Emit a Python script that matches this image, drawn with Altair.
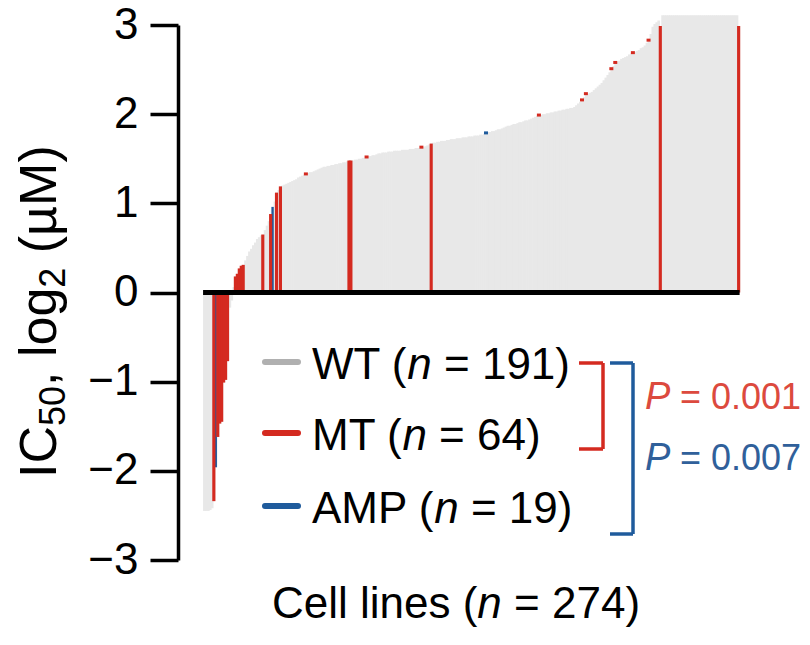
import altair as alt
import pandas as pd

# IC50 (log2 uM) per cell line, sorted waterfall order (274 cell lines)
ic50 = [
    -2.45, -2.45, -2.45, -2.44, -2.42, -2.34, -1.96, -1.62, -1.47, -1.45,
    -1.01, -0.98, -0.77, -0.17, -0.09, 0.06, 0.18, 0.21, 0.27, 0.30,
    0.31, 0.36, 0.41, 0.46, 0.49, 0.53, 0.56, 0.60, 0.62, 0.64,
    0.65, 0.70, 0.75, 0.80, 0.88, 0.96, 1.02, 1.12, 1.15, 1.19,
    1.20, 1.21, 1.22, 1.23, 1.24, 1.25, 1.26, 1.27, 1.29, 1.30,
    1.31, 1.32, 1.33, 1.34, 1.35, 1.35, 1.36, 1.37, 1.38, 1.39,
    1.40, 1.41, 1.41, 1.42, 1.42, 1.43, 1.43, 1.44, 1.44, 1.45,
    1.45, 1.46, 1.46, 1.47, 1.48, 1.48, 1.48, 1.49, 1.49, 1.50,
    1.50, 1.51, 1.51, 1.52, 1.53, 1.53, 1.54, 1.54, 1.55, 1.56,
    1.56, 1.57, 1.57, 1.57, 1.58, 1.58, 1.58, 1.59, 1.59, 1.59,
    1.59, 1.60, 1.60, 1.60, 1.60, 1.61, 1.61, 1.61, 1.62, 1.62,
    1.62, 1.63, 1.63, 1.64, 1.65, 1.66, 1.67, 1.68, 1.68, 1.69,
    1.69, 1.70, 1.70, 1.70, 1.71, 1.71, 1.72, 1.72, 1.72, 1.73,
    1.73, 1.73, 1.74, 1.74, 1.74, 1.75, 1.75, 1.75, 1.76, 1.76,
    1.76, 1.77, 1.77, 1.78, 1.79, 1.80, 1.80, 1.81, 1.81, 1.82,
    1.83, 1.83, 1.84, 1.85, 1.86, 1.87, 1.87, 1.88, 1.89, 1.89,
    1.90, 1.91, 1.91, 1.92, 1.93, 1.93, 1.94, 1.95, 1.96, 1.97,
    1.98, 1.99, 1.99, 2.00, 2.00, 2.01, 2.01, 2.02, 2.02, 2.03,
    2.03, 2.04, 2.04, 2.05, 2.05, 2.06, 2.06, 2.07, 2.07, 2.08,
    2.10, 2.12, 2.14, 2.16, 2.19, 2.23, 2.23, 2.24, 2.25, 2.27,
    2.29, 2.31, 2.33, 2.35, 2.38, 2.41, 2.44, 2.47, 2.51, 2.54,
    2.58, 2.59, 2.60, 2.62, 2.63, 2.64, 2.65, 2.67, 2.68, 2.69,
    2.70, 2.71, 2.72, 2.74, 2.75, 2.77, 2.80, 2.83, 2.90, 2.98,
    3.01, 3.03, 3.05, 2.99, 3.11, 3.11, 3.11, 3.11, 3.11, 3.11,
    3.11, 3.11, 3.11, 3.11, 3.11, 3.11, 3.11, 3.11, 3.11, 3.11,
    3.11, 3.11, 3.11, 3.11, 3.11, 3.11, 3.11, 3.11, 3.11, 3.11,
    3.11, 3.11, 3.11, 3.11, 3.11, 3.11, 3.11, 3.11, 3.11, 3.11,
    3.11, 3.11, 3.11, 2.99,
]

# cell lines whose mutant / amplified bar is visible in full
mt_bar_idx = [5, 7, 8, 9, 10, 11, 12, 16, 17, 18, 19, 20, 30, 34, 37, 39, 74, 75, 116, 233, 273]
amp_bar_idx = [6, 35]
# cell lines whose mutant / amplified bar shows only as an edge mark at the top
mt_edge_idx = [52, 83, 111, 171, 193, 195, 208, 210, 219, 227]
amp_edge_idx = [144]

legend_labels = [("WT (", "n", "= 191)"), ("MT (", "n", "= 64)"), ("AMP (", "n", "= 19)")]
p_labels = [("P", "= 0.001"), ("P", "= 0.007")]
x_title = ("Cell lines (", "n", "= 274)")
y_title = [("IC", False), ("50", True), (", log", False), ("2", True), ("(\u00b5M)", False)]

GRAY = "#e8e8e8"
LEG_GRAY = "#b0b0b0"
RED = "#d42a20"
BLUE = "#1f5b9c"
P_RED = "#dc4a3e"
P_BLUE = "#30609a"
FONT = "Liberation Sans"

n = len(ic50)
status, draw = [], []
for i in range(n):
    if i in mt_bar_idx:
        status.append("MT"); draw.append("bar")
    elif i in amp_bar_idx:
        status.append("AMP"); draw.append("bar")
    elif i in mt_edge_idx:
        status.append("MT"); draw.append("edge")
    elif i in amp_edge_idx:
        status.append("AMP"); draw.append("edge")
    else:
        status.append("WT"); draw.append("none")

df = pd.DataFrame({"idx": list(range(n)), "ic50": ic50, "status": status, "draw": draw})

xs = alt.Scale(domain=[-13.3, 273.7], nice=False, zero=False)
ys = alt.Scale(domain=[-3, 3], nice=False)
yaxis = alt.Axis(values=[-3, -2, -1, 0, 1, 2, 3], format="d", title=None, grid=False,
                 labelFontSize=44, labelFont=FONT, labelColor="black",
                 tickSize=28, tickWidth=3.5, tickColor="black",
                 domainWidth=3.5, domainColor="black", labelPadding=12)

base = alt.Chart(df).transform_calculate(x0="datum.idx - 0.5", x1="datum.idx + 0.85")

gray = base.mark_rect(color=GRAY).encode(
    x=alt.X("x0:Q", scale=xs, axis=None),
    x2="x1:Q",
    y=alt.Y("ic50:Q", scale=ys, axis=yaxis),
    y2=alt.datum(0),
)

cscale = alt.Scale(domain=["MT", "AMP"], range=[RED, BLUE])


def colored_bars(group, half):
    return alt.Chart(df).transform_filter(
        f"datum.draw == 'bar' && datum.status == '{group}'"
    ).transform_calculate(
        x0=f"datum.idx - {half}", x1=f"datum.idx + {half}"
    ).mark_rect().encode(
        x=alt.X("x0:Q", scale=xs, axis=None),
        x2="x1:Q",
        y=alt.Y("ic50:Q", scale=ys),
        y2=alt.datum(0),
        color=alt.Color("status:N", scale=cscale, legend=None),
    )


amp_bars = colored_bars("AMP", 0.6)
mt_bars = colored_bars("MT", 0.8)

edges = base.transform_filter("datum.draw == 'edge'").mark_tick(
    orient="horizontal", size=4, thickness=3, opacity=1
).encode(
    x=alt.X("idx:Q", scale=xs, axis=None),
    y=alt.Y("ic50:Q", scale=ys),
    color=alt.Color("status:N", scale=cscale, legend=None),
)

zero = alt.Chart(pd.DataFrame({"a": [-0.5], "b": [273.5], "z": [0]})).mark_rule(
    color="black", strokeWidth=5
).encode(
    x=alt.X("a:Q", scale=xs, axis=None), x2="b:Q", y=alt.Y("z:Q", scale=ys)
)

OX, OY = 178, 25  # plot origin in page pixels


def txt(s, x, y, size=44, color="black", style="normal", align="left", angle=0):
    return alt.Chart(pd.DataFrame({"t": [s]})).mark_text(
        font=FONT, fontSize=size, color=color, fontStyle=style, align=align,
        baseline="middle", angle=angle
    ).encode(text="t:N", x=alt.value(x - OX), y=alt.value(y - OY))


def seg(x1, y1, x2, y2, color, w):
    return alt.Chart(pd.DataFrame({"k": [0]})).mark_rule(
        color=color, strokeWidth=w, strokeCap="butt"
    ).encode(x=alt.value(x1 - OX), x2=alt.value(x2 - OX), y=alt.value(y1 - OY), y2=alt.value(y2 - OY))


layers = [gray, amp_bars, mt_bars, edges, zero]

# legend
leg_colors = [LEG_GRAY, RED, BLUE]
leg_y = [366, 437, 510]
em = 44
for (a, nn, b), c, yy in zip(legend_labels, leg_colors, leg_y):
    layers.append(alt.Chart(pd.DataFrame({"k": [0]})).mark_rule(
        color=c, strokeWidth=6, strokeCap="round").encode(
        x=alt.value(265 - OX), x2=alt.value(298 - OX), y=alt.value(yy - 4 - OY)))
    layers.append(txt(a, 312, yy))
    wa = {"WT (": 2.166, "MT (": 2.055, "AMP (": 2.778}[a] * em
    layers.append(txt(nn, 312 + wa, yy, style="italic"))
    layers.append(txt(b, 312 + wa + 0.556 * em + 0.278 * em, yy))

# brackets
layers += [
    seg(579, 363, 603, 363, RED, 3.5), seg(603, 363, 603, 449, RED, 3.5), seg(579, 449, 603, 449, RED, 3.5),
    seg(610, 363, 633, 363, BLUE, 3.5), seg(633, 363, 633, 534, BLUE, 3.5), seg(610, 534, 633, 534, BLUE, 3.5),
]

# P values
for (pp, rest), c, yy in zip(p_labels, [P_RED, P_BLUE], [398, 459]):
    layers.append(txt(pp, 645, yy, size=38, color=c, style="italic"))
    layers.append(txt(rest, 680, yy, size=36, color=c))

# x title
a, nn, b = x_title
layers.append(txt(a, 272, 605))
wa = 4.667 * em
layers.append(txt(nn, 272 + wa, 605, style="italic"))
layers.append(txt(b, 272 + wa + 0.556 * em + 0.278 * em, 605))

# y title, built bottom-to-top from pieces (subscripts smaller and lowered)
big, small = 52, 36
widths = {"IC": 1.0 * big, "50": 1.112 * small, ", log": 1.89 * big, "2": 0.556 * small,
          "(\u00b5M)": 2.075 * big}
ypos = 478
for s, sub in y_title:
    if s.startswith("("):
        ypos -= 0.278 * big
    if sub:
        layers.append(txt(s, 54, ypos, size=small, angle=270))
    else:
        layers.append(txt(s, 40, ypos, size=big, angle=270))
    ypos -= widths[s]

chart = alt.layer(*layers).properties(
    width=562, height=535,
    autosize=alt.AutoSizeParams(type="none"),
    padding={"left": OX, "top": OY, "right": 70, "bottom": 85},
).configure(background="white").configure_view(stroke=None)

chart.save("out.html", embed_options={"renderer": "svg", "actions": False})
